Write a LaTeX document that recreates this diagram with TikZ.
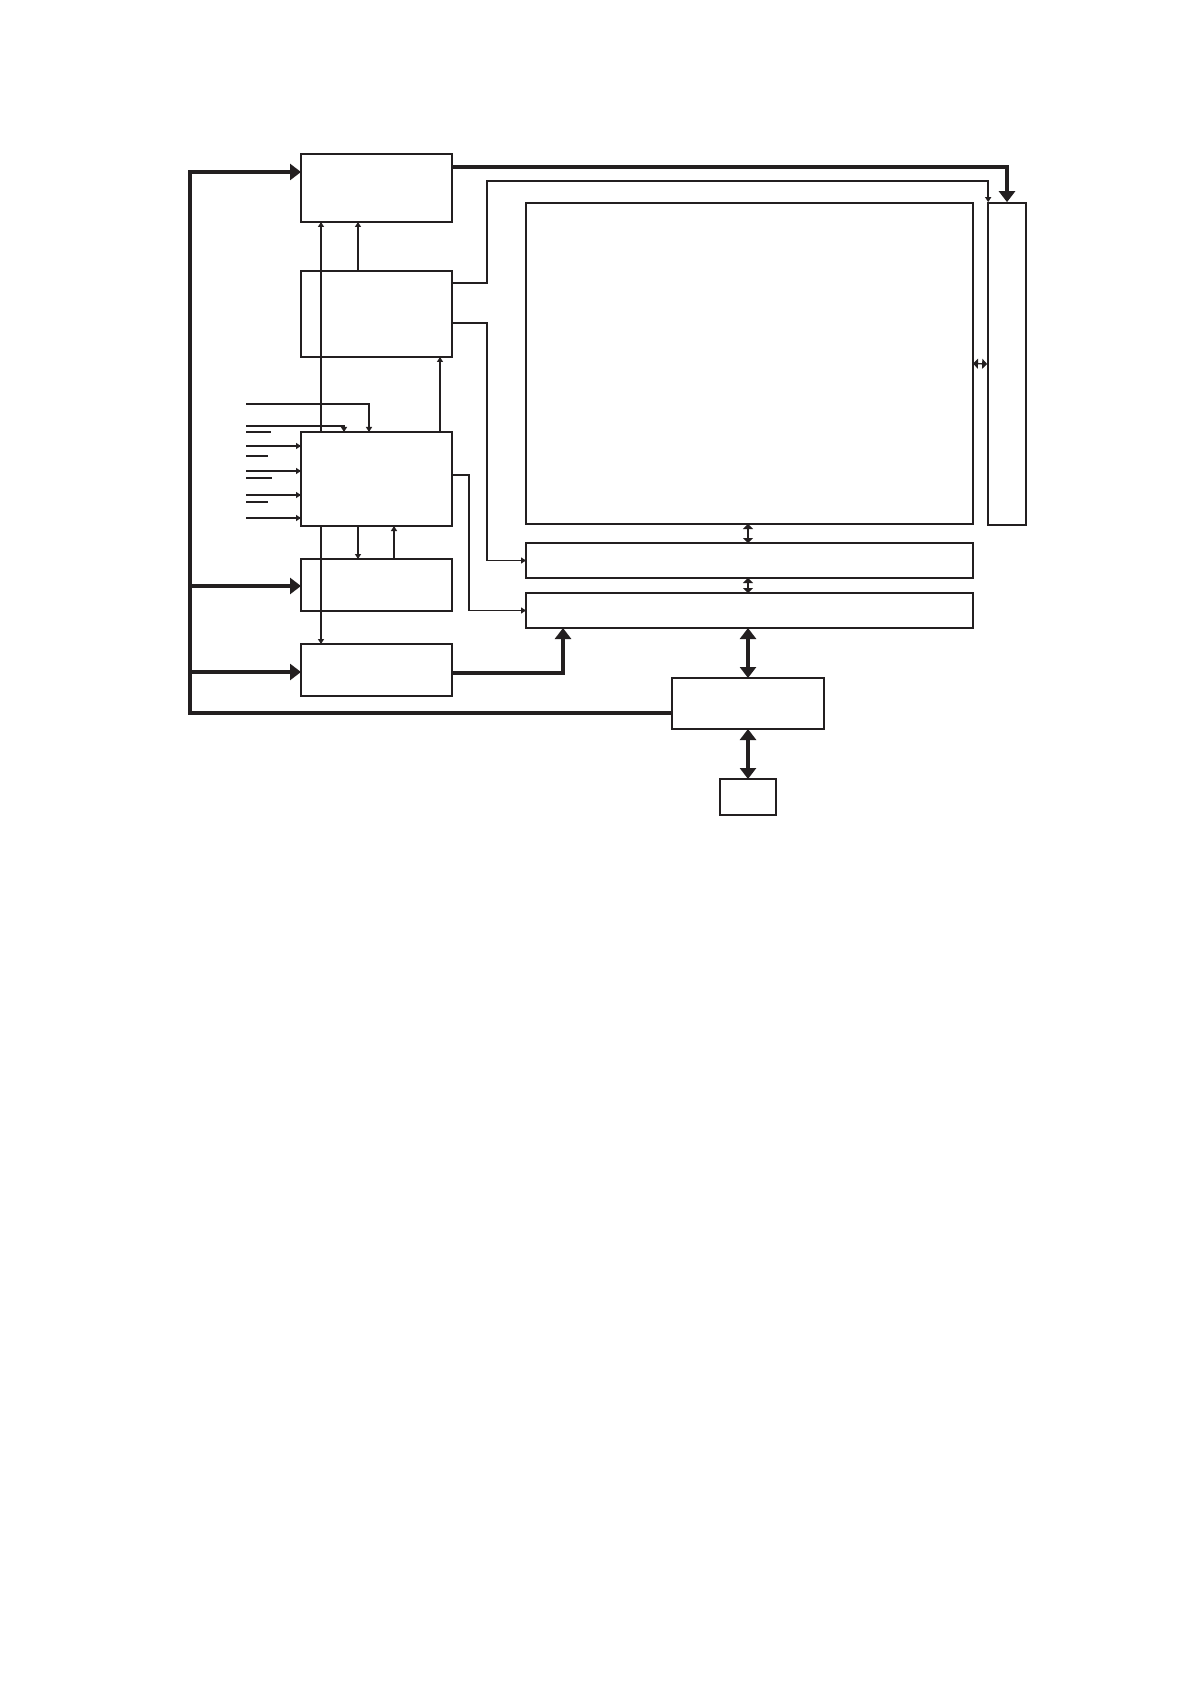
\documentclass[tikz,border=0pt]{standalone}
\usetikzlibrary{arrows.meta}

\definecolor{ink}{HTML}{231F20}
\tikzset{
  blk/.style={draw,line width=1.3pt,inner sep=0pt,outer sep=0pt,fill=white},
  sig/.style={line width=0.7pt,-{Triangle[length=2.5pt,width=3pt]}},
  bus/.style={line width=1.8pt,-{Triangle[length=5.5pt,width=8pt]}},
  dsig/.style={line width=0.7pt,{Triangle[length=2.5pt,width=5pt]}-{Triangle[length=2.5pt,width=5pt]}},
  dbus/.style={line width=1.8pt,{Triangle[length=5.5pt,width=8pt]}-{Triangle[length=5.5pt,width=8pt]}}
}

\begin{document}
\begin{tikzpicture}[x=0.5pt,y=-0.5pt,color=ink]
  \useasboundingbox (0,0) rectangle (1191,1684);

  % left column
  \node[blk,minimum width=75.5pt,minimum height=34pt] (ctrl) at (376.5,188) {};
  \node[blk,fill=none,minimum width=75.5pt,minimum height=43pt] (tim) at (376.5,314) {};

  % long vertical line behind the logic block
  \draw[line width=0.7pt,{Triangle[length=2.5pt,width=3pt]}-{Triangle[length=2.5pt,width=3pt]}]
    (ctrl.south -| 321,0) -- (321,644);

  \node[blk,minimum width=75.5pt,minimum height=47pt] (logic) at (376.5,479) {};
  \node[blk,fill=none,minimum width=75.5pt,minimum height=26pt] (drv) at (376.5,585) {};
  \node[blk,fill=none,minimum width=75.5pt,minimum height=26pt] (pwr) at (376.5,670) {};

  % panel and drivers
  \node[blk,minimum width=223.5pt,minimum height=160.5pt] (panel) at (749.5,363.5) {};
  \node[draw,line width=0.85pt,inner sep=0pt,minimum width=19pt,minimum height=161pt] (gate) at (1007,364) {};
  \node[blk,minimum width=223.5pt,minimum height=17.5pt] (srcA) at (749.5,560.5) {};
  \node[blk,minimum width=223.5pt,minimum height=17.5pt] (srcB) at (749.5,610.5) {};
  \node[blk,minimum width=76pt,minimum height=25.5pt] (mem) at (748,703.5) {};
  \node[blk,minimum width=28pt,minimum height=18pt] (port) at (748,797) {};

  % thick bus
  \draw[bus] (mem.west |- 0,713) -| (190,172) -- (ctrl.west |- 0,172);
  \draw[bus] (190,586) -- (drv.west |- 0,586);
  \draw[bus] (190,672) -- (pwr.west |- 0,672);
  \draw[bus] (ctrl.east |- 0,167) -| (gate.north);
  \draw[bus] (pwr.east |- 0,673) -| ([xshift=18.5pt]srcB.south west);

  % thin signals
  \path[sig]
    (tim.north -| 358,0) edge (ctrl.south -| 358,0)
    (logic.north -| 440,0) edge (tim.south -| 440,0)
    (logic.south -| 358,0) edge (drv.north -| 358,0)
    (drv.north -| 394,0) edge (logic.south -| 394,0);
  \draw[sig] (tim.east |- 0,283) -- (487,283) -- (487,181) -| ([xshift=0.5pt]gate.north west);
  \draw[sig] (tim.east |- 0,323) -- (487,323) |- (srcA.west);
  \draw[sig] (logic.east |- 0,475) -- (469,475) |- (srcB.west);

  % inputs of the logic block
  \draw[sig] (246,404) -| (logic.north -| 369,0);
  \draw[sig] (246,426) -| (logic.north -| 344,0);
  \foreach \yy in {446,471,495,518}
    \draw[sig] (246,\yy) -- (logic.west |- 0,\yy);
  \foreach \yy/\xx in {432/271,456/268,478/272,502/268}
    \draw[line width=0.7pt] (246,\yy) -- (\xx,\yy);

  % two-way links
  \draw[dsig] (panel.south -| mem.north) -- (srcA.north -| mem.north);
  \draw[dsig] (srcA.south -| mem.north) -- (srcB.north -| mem.north);
  \draw[dsig] (panel.east) -- (gate.west);
  \draw[dbus] (mem.north |- srcB.south) -- (mem.north);
  \draw[dbus] (mem.south) -- (port.north);
\end{tikzpicture}
\end{document}
